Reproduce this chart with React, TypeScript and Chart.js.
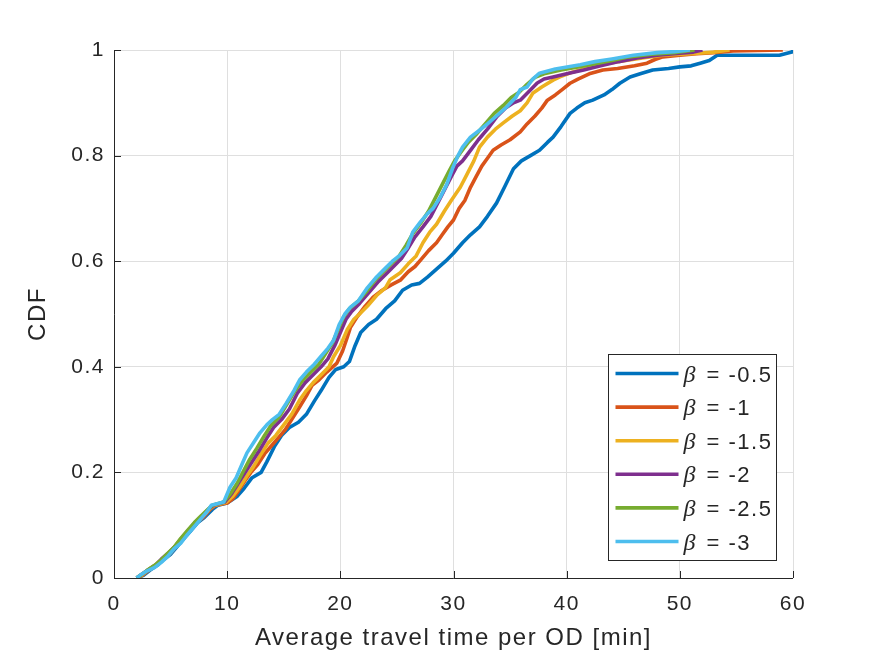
import React, { useEffect, useRef } from "react";
import { Chart, registerables } from "chart.js";

Chart.register(...registerables);

// ---- Data (x: average travel time [min], y: CDF) ----
const seriesLabels = ["-0.5", "-1", "-1.5", "-2", "-2.5", "-3"];
const seriesColors = ["#0072BD", "#D95319", "#EDB120", "#7E2F8E", "#77AC30", "#4DBEEE"];

const xTicks = [0, 10, 20, 30, 40, 50, 60];
const yTicks = [0, 0.2, 0.4, 0.6, 0.8, 1];
const yTickLabels = ["0", "0.2", "0.4", "0.6", "0.8", "1"];

const beta05: [number, number][] = [
  [2.0, 0], [2.6, 0.005], [3.2, 0.015], [3.9, 0.025], [4.4, 0.035], [5.0, 0.045], [5.6, 0.06],
  [6.2, 0.075], [6.8, 0.09], [7.4, 0.105], [8.0, 0.115], [8.7, 0.13], [9.2, 0.138], [10.0, 0.142],
  [10.9, 0.155], [11.5, 0.17], [12.2, 0.19], [13.0, 0.2], [13.5, 0.22], [14.2, 0.25], [14.8, 0.27],
  [15.5, 0.285], [16.3, 0.295], [17.0, 0.31], [17.7, 0.335], [18.3, 0.355], [19.0, 0.38],
  [19.6, 0.395], [20.3, 0.4], [20.8, 0.41], [21.3, 0.44], [21.8, 0.465], [22.5, 0.48], [23.2, 0.49],
  [24.0, 0.51], [24.8, 0.525], [25.5, 0.545], [26.3, 0.555], [27.0, 0.558], [27.7, 0.57],
  [28.5, 0.585], [29.3, 0.6], [30.0, 0.615], [30.8, 0.635], [31.5, 0.65], [32.3, 0.665],
  [33.0, 0.685], [33.8, 0.71], [34.5, 0.74], [35.3, 0.775], [36.0, 0.79], [36.8, 0.8],
  [37.6, 0.81], [38.3, 0.825], [38.8, 0.835], [39.5, 0.855], [40.3, 0.88], [40.9, 0.89],
  [41.6, 0.9], [42.3, 0.905], [43.3, 0.915], [44.0, 0.925], [44.7, 0.937], [45.6, 0.949],
  [46.5, 0.955], [47.6, 0.962], [49.0, 0.965], [50.0, 0.968], [51.0, 0.97], [51.8, 0.975],
  [52.6, 0.98], [53.3, 0.99], [56.0, 0.99], [58.8, 0.99], [59.9, 0.996], [60.0, 1.0],
];

const beta1: [number, number][] = [
  [2.0, 0], [2.5, 0.005], [3.1, 0.015], [3.8, 0.025], [4.3, 0.035], [4.9, 0.045], [5.5, 0.06],
  [6.1, 0.075], [6.7, 0.09], [7.3, 0.105], [7.9, 0.115], [8.5, 0.13], [9.0, 0.138], [10.0, 0.142],
  [10.5, 0.15], [11.0, 0.165], [11.6, 0.185], [12.1, 0.2], [12.7, 0.215], [13.3, 0.235],
  [13.9, 0.25], [14.5, 0.265], [15.1, 0.28], [15.7, 0.3], [16.4, 0.324], [17.0, 0.345],
  [17.5, 0.365], [18.1, 0.375], [18.8, 0.39], [19.7, 0.407], [20.2, 0.43], [20.6, 0.455],
  [20.9, 0.475], [21.5, 0.495], [22.2, 0.515], [22.9, 0.532], [23.7, 0.545], [24.5, 0.555],
  [25.3, 0.564], [26.0, 0.58], [26.6, 0.59], [27.2, 0.605], [27.8, 0.62], [28.5, 0.635],
  [29.0, 0.65], [29.5, 0.665], [30.0, 0.678], [30.5, 0.7], [31.0, 0.715], [31.5, 0.74],
  [32.0, 0.76], [32.5, 0.78], [33.0, 0.795], [33.5, 0.81], [34.2, 0.82], [35.0, 0.83],
  [35.9, 0.845], [36.5, 0.86], [37.2, 0.875], [37.8, 0.89], [38.3, 0.905], [39.0, 0.915],
  [39.6, 0.925], [40.3, 0.937], [41.0, 0.945], [42.0, 0.955], [43.2, 0.962], [44.5, 0.965],
  [46.0, 0.97], [47.1, 0.975], [47.8, 0.982], [48.5, 0.987], [50.0, 0.99], [51.5, 0.993],
  [53.0, 0.995], [54.7, 0.998], [59.1, 1.0],
];

const beta15: [number, number][] = [
  [2.0, 0], [2.5, 0.006], [3.0, 0.015], [3.7, 0.025], [4.3, 0.036], [4.8, 0.046], [5.4, 0.06],
  [6.0, 0.075], [6.6, 0.09], [7.2, 0.105], [7.8, 0.117], [8.4, 0.13], [8.9, 0.138], [9.9, 0.143],
  [10.5, 0.155], [11.2, 0.175], [11.8, 0.195], [12.3, 0.21], [13.0, 0.235], [13.6, 0.255],
  [14.3, 0.27], [15.0, 0.29], [15.7, 0.31], [16.4, 0.337], [17.0, 0.355], [17.6, 0.37],
  [18.3, 0.385], [19.0, 0.4], [19.4, 0.419], [20.0, 0.44], [20.6, 0.47], [21.2, 0.49],
  [21.7, 0.5], [22.4, 0.515], [23.2, 0.535], [24.0, 0.55], [24.4, 0.565], [25.3, 0.578],
  [26.0, 0.595], [26.7, 0.61], [27.3, 0.635], [27.9, 0.655], [28.5, 0.67], [29.2, 0.695],
  [29.8, 0.715], [30.6, 0.74], [31.2, 0.765], [31.8, 0.79], [32.3, 0.816], [33.0, 0.835],
  [33.7, 0.85], [34.4, 0.862], [35.2, 0.875], [35.9, 0.885], [36.5, 0.9], [37.0, 0.918],
  [37.8, 0.93], [38.8, 0.943], [39.4, 0.949], [40.5, 0.958], [41.8, 0.966], [43.0, 0.972],
  [44.5, 0.978], [46.7, 0.985], [48.5, 0.99], [51.0, 0.993], [53.0, 0.996], [54.4, 1.0],
];

const beta2: [number, number][] = [
  [2.0, 0], [2.4, 0.006], [3.0, 0.015], [3.7, 0.025], [4.2, 0.036], [4.8, 0.047], [5.4, 0.06],
  [6.0, 0.076], [6.6, 0.091], [7.2, 0.106], [7.8, 0.118], [8.4, 0.131], [8.8, 0.138], [9.8, 0.144],
  [10.4, 0.16], [11.0, 0.18], [11.6, 0.2], [12.2, 0.22], [12.8, 0.24], [13.5, 0.265],
  [14.1, 0.285], [14.8, 0.3], [15.5, 0.32], [16.2, 0.35], [16.9, 0.37], [17.6, 0.385],
  [18.3, 0.4], [18.9, 0.415], [19.5, 0.44], [20.0, 0.465], [20.5, 0.49], [21.0, 0.505],
  [21.7, 0.52], [22.5, 0.54], [23.3, 0.56], [24.0, 0.575], [24.7, 0.59], [25.4, 0.605],
  [26.0, 0.625], [26.6, 0.646], [27.3, 0.665], [28.0, 0.685], [28.6, 0.71], [29.2, 0.735],
  [29.8, 0.76], [30.3, 0.78], [30.8, 0.79], [31.5, 0.81], [32.2, 0.83], [33.0, 0.85],
  [33.8, 0.873], [34.6, 0.89], [35.3, 0.9], [35.9, 0.905], [36.6, 0.92], [37.4, 0.9375],
  [38.0, 0.945], [38.8, 0.949], [40.0, 0.955], [41.5, 0.962], [43.0, 0.97], [44.6, 0.978],
  [46.2, 0.985], [48.0, 0.99], [50.0, 0.994], [51.2, 0.996], [52.0, 1.0],
];

const beta25: [number, number][] = [
  [2.0, 0], [2.4, 0.006], [2.9, 0.014], [3.6, 0.024], [4.2, 0.035], [4.7, 0.046], [5.3, 0.058],
  [5.9, 0.075], [6.5, 0.09], [7.1, 0.105], [7.7, 0.118], [8.3, 0.13], [8.7, 0.138], [9.7, 0.144],
  [10.3, 0.16], [10.9, 0.18], [11.5, 0.205], [12.0, 0.225], [12.6, 0.245], [13.3, 0.27],
  [13.9, 0.29], [14.6, 0.305], [15.3, 0.33], [16.0, 0.355], [16.7, 0.375], [17.4, 0.39],
  [18.1, 0.405], [18.7, 0.425], [19.3, 0.445], [19.8, 0.47], [20.3, 0.495], [20.8, 0.51],
  [21.6, 0.525], [22.4, 0.545], [23.1, 0.565], [23.8, 0.58], [24.5, 0.595], [25.2, 0.61],
  [25.8, 0.63], [26.4, 0.652], [27.1, 0.672], [27.8, 0.695], [28.4, 0.72], [29.0, 0.745],
  [29.6, 0.77], [30.1, 0.79], [30.6, 0.805], [31.3, 0.825], [32.0, 0.84], [32.8, 0.86],
  [33.6, 0.88], [34.4, 0.895], [35.1, 0.91], [35.8, 0.92], [36.5, 0.935], [37.2, 0.948],
  [38.0, 0.955], [39.5, 0.962], [41.0, 0.968], [42.5, 0.974], [44.0, 0.98], [45.5, 0.987],
  [47.5, 0.992], [49.5, 0.995], [51.3, 1.0],
];

const beta3: [number, number][] = [
  [2.0, 0], [2.3, 0.005], [2.8, 0.012], [3.6, 0.02], [4.2, 0.03], [4.7, 0.04], [5.3, 0.055],
  [5.9, 0.066], [6.4, 0.08], [7.0, 0.095], [7.6, 0.11], [8.2, 0.125], [8.6, 0.138], [9.7, 0.144],
  [10.25, 0.172], [10.8, 0.19], [11.3, 0.215], [11.75, 0.237], [12.3, 0.255], [12.9, 0.275],
  [13.5, 0.29], [14.0, 0.3], [14.6, 0.31], [15.2, 0.33], [15.9, 0.355], [16.4, 0.375],
  [17.0, 0.39], [17.7, 0.405], [18.3, 0.42], [18.9, 0.435], [19.4, 0.45], [19.9, 0.48],
  [20.4, 0.5], [20.9, 0.513], [21.6, 0.525], [22.4, 0.55], [23.2, 0.57], [23.9, 0.585],
  [24.6, 0.6], [25.2, 0.61], [25.9, 0.625], [26.4, 0.655], [27.1, 0.675], [27.7, 0.69],
  [28.2, 0.7], [28.8, 0.72], [29.4, 0.745], [29.9, 0.775], [30.4, 0.8], [30.8, 0.816],
  [31.5, 0.835], [32.3, 0.848], [33.0, 0.86], [33.8, 0.875], [34.7, 0.892], [35.5, 0.91],
  [35.9, 0.925], [36.5, 0.93], [37.0, 0.945], [37.6, 0.956], [39.0, 0.964], [41.2, 0.972],
  [42.5, 0.978], [44.0, 0.983], [45.9, 0.99], [48.0, 0.995], [49.5, 0.997], [50.9, 1.0],
];

const seriesData = [beta05, beta1, beta15, beta2, beta25, beta3];

const xTitle = "Average travel time per OD [min]";
const yTitle = "CDF";

// ---- Styling ----
const SANS = "'Liberation Sans', Arial, Helvetica, sans-serif";
const SERIF = "'Liberation Serif', 'Times New Roman', serif";
const INK = "#262626";
const GRID = "#dfdfdf";
const LS = "1.5px";
const LINE_W = 3.6;

const setSpacing = (ctx: any, v: string) => {
  try {
    ctx.letterSpacing = v;
  } catch (e) {}
};

const matlabPlugin = {
  id: "matlabDecor",
  beforeDraw(chart: any) {
    setSpacing(chart.ctx, LS);
  },
  afterDatasetsDraw(chart: any) {
    const { ctx, chartArea } = chart;
    const xs = chart.scales.x;
    const ys = chart.scales.y;
    ctx.save();
    ctx.strokeStyle = INK;
    ctx.lineWidth = 1;
    ctx.beginPath();
    // axis lines
    ctx.moveTo(chartArea.left + 0.5, chartArea.top);
    ctx.lineTo(chartArea.left + 0.5, chartArea.bottom + 0.5);
    ctx.lineTo(chartArea.right, chartArea.bottom + 0.5);
    // inward tick marks
    for (const t of xTicks) {
      const px = Math.round(xs.getPixelForValue(t)) + 0.5;
      ctx.moveTo(px, chartArea.bottom);
      ctx.lineTo(px, chartArea.bottom - 7);
    }
    for (const t of yTicks) {
      const py = Math.round(ys.getPixelForValue(t)) + 0.5;
      ctx.moveTo(chartArea.left, py);
      ctx.lineTo(chartArea.left + 7, py);
    }
    ctx.stroke();

    // legend box
    const w = 168;
    const h = 206;
    const bx = Math.round(chartArea.right - 17 - w) + 0.5;
    const by = Math.round(chartArea.bottom - 18 - h) + 0.5;
    ctx.fillStyle = "#ffffff";
    ctx.fillRect(bx, by, w, h);
    ctx.strokeStyle = INK;
    ctx.lineWidth = 1;
    ctx.strokeRect(bx, by, w, h);
    const rowH = 33.6;
    const firstY = by + 19;
    seriesLabels.forEach((lab, i) => {
      const y = firstY + i * rowH;
      ctx.strokeStyle = seriesColors[i];
      ctx.lineWidth = LINE_W;
      ctx.beginPath();
      ctx.moveTo(bx + 7, y);
      ctx.lineTo(bx + 70, y);
      ctx.stroke();
      ctx.textBaseline = "alphabetic";
      ctx.textAlign = "left";
      ctx.fillStyle = INK;
      setSpacing(ctx, "0px");
      ctx.font = `italic 24px ${SERIF}`;
      ctx.fillText("β", bx + 75, y + 8);
      setSpacing(ctx, LS);
      ctx.font = `22px ${SANS}`;
      ctx.fillText("= " + lab, bx + 98, y + 8);
    });
    ctx.restore();
  },
};

export default function App() {
  const canvasRef = useRef<HTMLCanvasElement | null>(null);

  useEffect(() => {
    const canvas = canvasRef.current;
    if (!canvas) return;
    const chart = new Chart(canvas, {
      type: "line",
      data: {
        datasets: seriesData.map((pts, i) => ({
          label: "β = " + seriesLabels[i],
          data: pts.map(([x, y]) => ({ x, y })),
          borderColor: seriesColors[i],
          backgroundColor: seriesColors[i],
          borderWidth: LINE_W,
          pointRadius: 0,
          pointHoverRadius: 0,
          fill: false,
          tension: 0,
          borderJoinStyle: "round" as const,
          order: seriesLabels.length - 1 - i,
        })),
      },
      options: {
        animation: false,
        responsive: false,
        devicePixelRatio: 1,
        events: [],
        layout: { padding: { top: 50, right: 82, left: 0, bottom: 0 } },
        plugins: {
          legend: { display: false },
          tooltip: { enabled: false },
        },
        scales: {
          x: {
            type: "linear",
            min: 0,
            max: 60,
            afterFit: (s: any) => {
              s.height = 78;
            },
            afterBuildTicks: (s: any) => {
              s.ticks = xTicks.map((v) => ({ value: v }));
            },
            ticks: {
              color: INK,
              font: { family: SANS, size: 21 },
              padding: 14,
              maxRotation: 0,
              autoSkip: false,
              callback: (v: any) => String(v),
            },
            grid: { color: GRID, lineWidth: 1, drawTicks: false },
            border: { display: false },
            title: {
              display: true,
              text: xTitle,
              color: INK,
              font: { family: SANS, size: 24 },
              padding: { top: 0, bottom: 3 },
            },
          },
          y: {
            type: "linear",
            min: 0,
            max: 1,
            afterFit: (s: any) => {
              s.width = 114;
            },
            afterBuildTicks: (s: any) => {
              s.ticks = yTicks.map((v) => ({ value: v }));
            },
            ticks: {
              color: INK,
              font: { family: SANS, size: 21 },
              padding: 9,
              autoSkip: false,
              callback: (v: any) => {
                const idx = yTicks.findIndex((t) => Math.abs(t - Number(v)) < 1e-9);
                return idx >= 0 ? yTickLabels[idx] : String(v);
              },
            },
            grid: { color: GRID, lineWidth: 1, drawTicks: false },
            border: { display: false },
            title: {
              display: true,
              text: yTitle,
              color: INK,
              font: { family: SANS, size: 24 },
              padding: { top: 24, bottom: 0 },
            },
          },
        },
      },
      plugins: [matlabPlugin],
    });
    return () => chart.destroy();
  }, []);

  return (
    <div style={{ position: "absolute", left: 0, top: 0, width: 875, height: 656, background: "#fff" }}>
      <canvas ref={canvasRef} width={875} height={656} style={{ display: "block" }} />
    </div>
  );
}
